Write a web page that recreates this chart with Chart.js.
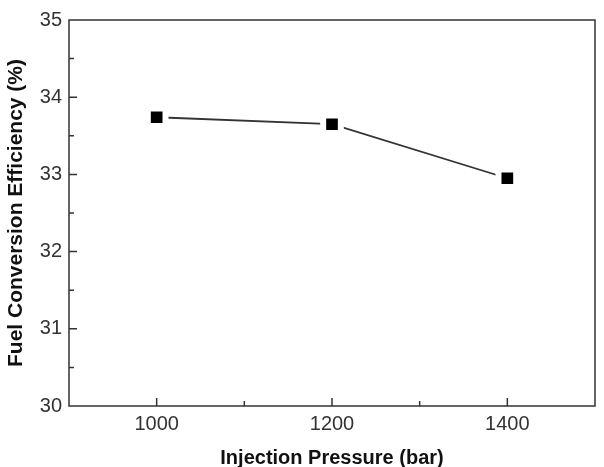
<!DOCTYPE html>
<html>
<head>
<meta charset="utf-8">
<script src="https://cdn.jsdelivr.net/npm/chart.js@4"></script>
<style>
  html, body { margin: 0; padding: 0; background: #fff; }
  #wrap { width: 604px; height: 467px; }
</style>
</head>
<body>
<div id="wrap"><canvas id="chart"></canvas></div>
<script>
const pressures = [1000, 1200, 1400];
const efficiency = [33.74, 33.65, 32.95];
const xLabeled = [1000, 1200, 1400];
const xTitle = 'Injection Pressure (bar)';
const yTitle = 'Fuel Conversion Efficiency (%)';

const FONT = '"Liberation Sans", Arial, sans-serif';
const AXIS = '#333';

// frame + inward ticks, origin style
const frameTicks = {
  id: 'frameTicks',
  afterDatasetsDraw(chart){
    const {ctx, chartArea: a, scales} = chart;
    ctx.save();
    ctx.strokeStyle = AXIS;
    ctx.lineWidth = 1.5;
    ctx.strokeRect(a.left, a.top, a.right - a.left, a.bottom - a.top);
    ctx.beginPath();
    scales.x.ticks.forEach(t=>{
      if(t.value <= scales.x.min || t.value >= scales.x.max) return;
      const px = scales.x.getPixelForValue(t.value);
      const len = xLabeled.includes(t.value) ? 8 : 5;
      ctx.moveTo(px, a.bottom);
      ctx.lineTo(px, a.bottom - len);
    });
    for(let v=30.5; v<35; v+=0.5){
      const py = scales.y.getPixelForValue(v);
      const len = Number.isInteger(v) ? 8 : 5;
      ctx.moveTo(a.left, py);
      ctx.lineTo(a.left + len, py);
    }
    ctx.stroke();
    ctx.restore();
  }
};

new Chart(document.getElementById('chart'), {
  type: 'scatter',
  data: {
    datasets: [{
      data: pressures.map((p,i)=>({x:p, y:efficiency[i]})),
      showLine: true,
      borderColor: '#333',
      borderWidth: 1.8,
      pointStyle: 'rect',
      pointRadius: 12.5,
      pointHoverRadius: 12.5,
      pointBackgroundColor: '#000',
      pointBorderColor: '#fff',
      pointBorderWidth: 6
    }]
  },
  options: {
    responsive: true,
    maintainAspectRatio: false,
    animation: false,
    events: [],
    layout: { autoPadding: false, padding: { top: 20, right: 9, left: 0, bottom: 0 } },
    plugins: { legend: { display: false }, tooltip: { enabled: false } },
    scales: {
      x: {
        type: 'linear', min: 900, max: 1500,
        afterFit(s){ s.height = 61; s.paddingLeft = 0; s.paddingRight = 0; },
        ticks: {
          stepSize: 100,
          color: AXIS,
          font: { family: FONT, size: 20 },
          padding: 6,
          maxRotation: 0,
          callback: v => xLabeled.includes(v) ? String(v) : ''
        },
        grid: { display: false, drawTicks: false },
        border: { display: false },
        title: {
          display: true, text: xTitle, color: '#111',
          font: { family: FONT, size: 20, weight: 'bold', lineHeight: 1 },
          padding: { top: 0, bottom: -1 }
        }
      },
      y: {
        min: 30, max: 35,
        afterFit(s){ s.width = 69; },
        ticks: {
          stepSize: 1,
          color: AXIS,
          font: { family: FONT, size: 20 },
          padding: 7
        },
        grid: { display: false, drawTicks: false },
        border: { display: false },
        title: {
          display: true, text: yTitle, color: '#111',
          font: { family: FONT, size: 21, weight: 'bold', lineHeight: 1 },
          padding: { top: 6, bottom: 0 }
        }
      }
    }
  },
  plugins: [frameTicks]
});
</script>
</body>
</html>
